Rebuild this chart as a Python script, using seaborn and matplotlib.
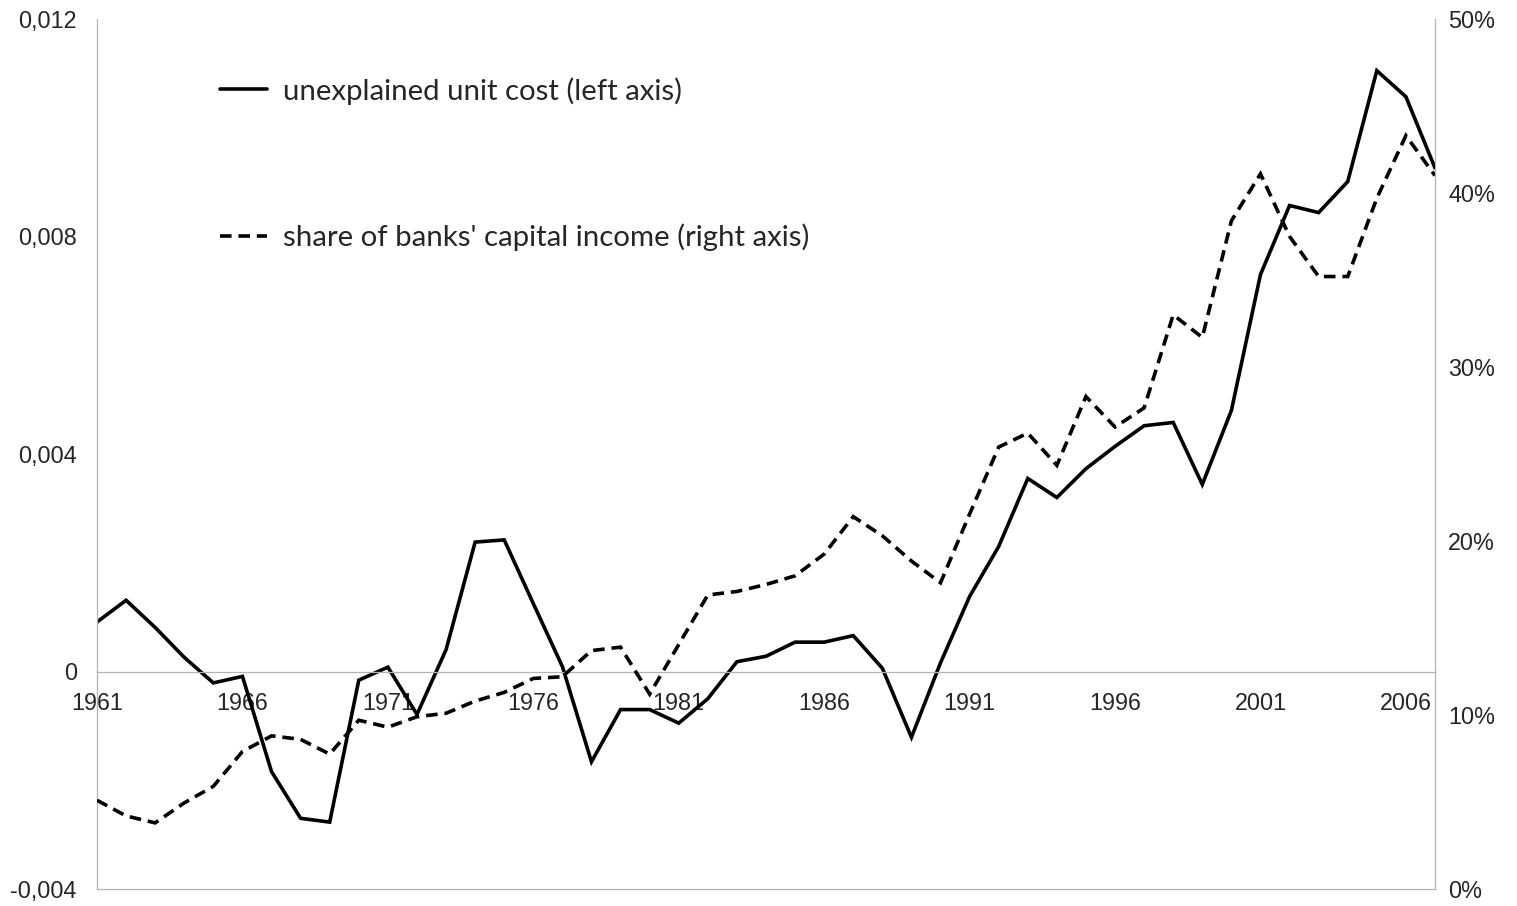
import numpy as np
import pandas as pd
import matplotlib
matplotlib.use("Agg")
import matplotlib.pyplot as plt
from matplotlib.ticker import FuncFormatter, FixedLocator
import seaborn as sns

# --- data -------------------------------------------------------------
years = list(range(1961, 2008))

unit_cost = [
    0.00091, 0.00131, 0.00081, 0.00026, -0.00021, -0.00009, -0.00184, -0.00270,
    -0.00277, -0.00016, 0.00008, -0.00079, 0.00040, 0.00238, 0.00242, 0.00125,
    0.00009, -0.00166, -0.00070, -0.00070, -0.00095, -0.00050, 0.00018, 0.00028,
    0.00054, 0.00054, 0.00066, 0.00006, -0.00121, 0.00016, 0.00138, 0.00230,
    0.00355, 0.00320, 0.00373, 0.00414, 0.00452, 0.00458, 0.00344, 0.00480,
    0.00730, 0.00857, 0.00844, 0.00901, 0.01105, 0.01057, 0.00926,
]

capital_share = [
    5.1, 4.2, 3.8, 4.95, 5.9, 7.9, 8.8, 8.6, 7.75, 9.7, 9.3, 9.9, 10.1, 10.8,
    11.3, 12.1, 12.2, 13.7, 13.9, 11.2, 14.05, 16.9, 17.1, 17.5, 18.0, 19.25,
    21.4, 20.3, 18.85, 17.6, 21.55, 25.4, 26.2, 24.35, 28.3, 26.55, 27.65, 33.0,
    31.7, 38.4, 41.1, 37.5, 35.2, 35.2, 39.7, 43.3, 41.0,
]

left_ticks = [-0.004, 0.0, 0.004, 0.008, 0.012]
right_ticks = [0, 10, 20, 30, 40, 50]
year_ticks = list(range(1961, 2007, 5))

label_cost = "unexplained unit cost (left axis)"
label_share = "share of banks' capital income (right axis)"

# --- styling ------------------------------------------------------------
sns.set_style("white")
plt.rcParams["font.family"] = ["Liberation Sans", "DejaVu Sans"]
GRID = "#b3b3b3"
TICK_FS = 16.8
LW = 2.6

df = pd.DataFrame({"year": years, "cost": unit_cost, "share": capital_share})

fig = plt.figure(figsize=(15.17, 9.06), dpi=100)
ax = fig.add_axes([97 / 1517, 1 - 889 / 906, (1435 - 97) / 1517, (889 - 19) / 906])
ax2 = ax.twinx()

sns.lineplot(data=df, x="year", y="cost", ax=ax, color="black", lw=LW,
             label=label_cost, solid_joinstyle="miter")
sns.lineplot(data=df, x="year", y="share", ax=ax2, color="black", lw=LW,
             linestyle=(0, (3.2, 1.9)), label=label_share,
             dash_joinstyle="miter", dash_capstyle="butt")

for a in (ax, ax2):
    if a.get_legend() is not None:
        a.get_legend().remove()

ax.set_xlim(years[0], years[-1])
ax.set_ylim(left_ticks[0], left_ticks[-1])
ax2.set_ylim(right_ticks[0], right_ticks[-1])

# left axis
ax.yaxis.set_major_locator(FixedLocator(left_ticks))
ax.yaxis.set_major_formatter(FuncFormatter(
    lambda v, p: "0" if abs(v) < 1e-12 else f"{v:.3f}".replace(".", ",")))
ax.tick_params(axis="y", length=0, pad=14.5, labelsize=TICK_FS)

# right axis
ax2.yaxis.set_major_locator(FixedLocator(right_ticks))
ax2.yaxis.set_major_formatter(FuncFormatter(lambda v, p: f"{v:.0f}%"))
ax2.tick_params(axis="y", length=0, pad=9.5, labelsize=TICK_FS)

# category axis crossing at zero
ax.xaxis.set_major_locator(FixedLocator(year_ticks))
ax.xaxis.set_major_formatter(FuncFormatter(lambda v, p: f"{int(round(v))}"))
ax.tick_params(axis="x", length=0, pad=15.0, labelsize=TICK_FS)
ax.spines["bottom"].set_position(("data", 0))

ax.set_xlabel("")
ax.set_ylabel("")
ax2.set_ylabel("")

for a in (ax, ax2):
    a.spines["top"].set_visible(False)
    for s in ("left", "right", "bottom"):
        a.spines[s].set_color(GRID)
        a.spines[s].set_linewidth(0.9)
ax.spines["right"].set_visible(False)
ax2.spines["left"].set_visible(False)

# legend
h1, l1 = ax.get_legend_handles_labels()
h2, l2 = ax2.get_legend_handles_labels()
leg = ax2.legend(h1 + h2, l1 + l2, loc="upper left",
                 bbox_to_anchor=(220 / 1517, 1 - 77 / 906),
                 bbox_transform=fig.transFigure, frameon=False,
                 borderpad=0, borderaxespad=0, handlelength=1.6,
                 handletextpad=0.55, labelspacing=4.05,
                 prop={"family": ["Lato", "DejaVu Sans"], "size": 21.2})

fig.savefig("out.png", dpi=100)
